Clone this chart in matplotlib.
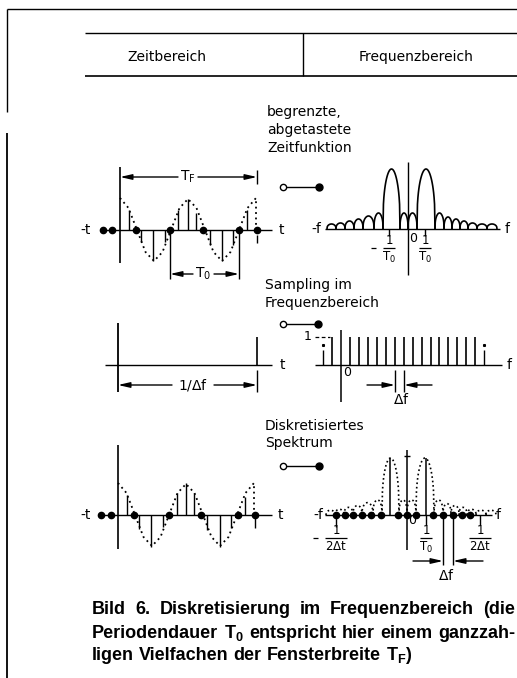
import numpy as np
import matplotlib
matplotlib.use('Agg')
import matplotlib.pyplot as plt
from matplotlib import font_manager
from matplotlib.font_manager import FontProperties


def pick_font(names):
    for n in names:
        try:
            font_manager.findfont(FontProperties(family=n), fallback_to_default=False)
            return n
        except Exception:
            pass
    return 'DejaVu Sans'


diag_font = pick_font(['Liberation Sans Narrow', 'DejaVu Sans'])
cap_font = pick_font(['Liberation Sans', 'Arial', 'DejaVu Sans'])
plt.rcParams['mathtext.fontset'] = 'custom'
plt.rcParams['mathtext.rm'] = diag_font
plt.rcParams['mathtext.it'] = diag_font
plt.rcParams['mathtext.bf'] = cap_font + ':bold'

# ---- values (pixels) ----
# dotted signal: offsets from window start, value above baseline
curve_dx = [0, 8.5, 17, 25.5, 34, 42.5, 51, 59.5, 68, 76.5, 85, 93.5, 102, 110.5, 119, 127.5, 136, 136]
curve_val = [32, 22, 0, -22, -31, -22, 0, 22, 31, 22, 0, -22, -31, -22, 0, 22, 32, 0]

# panel 1 samples
stem1_x = [129, 141, 153, 165, 178, 188, 196, 210, 222, 233, 247]
stem1_v = [20, -12, -31, -12, 20, 31, 17, -15, -31, -15, 20]
dots1_x = [103, 112, 136, 170, 203, 239, 257]

# panel 3 samples
stem3_x = [127, 139, 151, 163, 177, 186, 194, 207, 220, 231, 245]
stem3_v = [20, -14, -32, -12, 22, 32, 22, -15, -32, -13, 18]
dots3_x = [101, 111, 134, 169, 201, 238, 255]

# spectrum lobes: edges relative to f=0 and heights
lobe_edges = [-81, -72, -63, -54, -45, -34, -25, -8, 0, 9, 27, 36, 44, 52, 60, 69, 79, 89]
lobe_h = [5, 6, 8, 10, 13, 16, 60, 16, 16, 60, 16, 12, 10, 8, 6, 5, 5]

# sampling comb in frequency
comb_x = [323, 332, 350, 359, 368, 377, 386, 395, 404, 413, 422, 431, 439, 448, 457, 466, 475, 484]
comb_dashed = [323, 484]

# sampled spectrum dots and peak lines
fdots_x = [336, 345, 353, 362, 371, 381, 398, 407, 416, 433, 443, 453, 462, 470]
fpeaks_x = [390, 426]

cap_lines = [
    ['Bild', '6.', 'Diskretisierung', 'im', 'Frequenzbereich', '(die'],
    ['Periodendauer', r'$\mathbf{T_0}$', 'entspricht', 'hier', 'einem', 'ganzzah-'],
    ['ligen', 'Vielfachen', 'der', 'Fensterbreite', r'$\mathbf{T_F}$)'],
]

W, H = 517, 678
fig = plt.figure(figsize=(W / 100, H / 100), dpi=100)
ax = fig.add_axes([0, 0, 1, 1])
ax.set_xlim(0, W)
ax.set_ylim(H, 0)
ax.axis('off')
K = 'black'
LW = 1.0


def line(xs, ys, lw=LW, **kw):
    ax.plot(xs, ys, color=K, lw=lw, solid_capstyle='butt', **kw)


def txt(x, y, s, size=9.5, ha='center', va='center'):
    ax.text(x, y, s, fontsize=size, family=diag_font, ha=ha, va=va, color=K)


def arrow(x0, x1, y):
    ax.annotate('', xy=(x1, y), xytext=(x0, y),
                arrowprops=dict(arrowstyle='-|>,head_length=0.7,head_width=0.16',
                                color=K, lw=LW, shrinkA=0, shrinkB=0))


def dim(xa, xb, y, label, ga, gb, size=10):
    arrow(ga, xa, y)
    arrow(gb, xb, y)
    txt((ga + gb) / 2, y, label, size=size)


def frac(x, y, num, den, minus=False, w=12):
    line([x - w / 2, x + w / 2], [y, y], lw=0.9)
    txt(x, y - 7, num, size=8.5)
    txt(x, y + 9, den, size=8.5)
    if minus:
        line([x - w / 2 - 12, x - w / 2 - 7], [y, y], lw=0.9)


def connector(x0, x1, y):
    line([x0, x1], [y, y])
    ax.plot([x0], [y], 'o', ms=4.5, mfc='white', mec=K, mew=1.0)
    ax.plot([x1], [y], 'o', ms=5, color=K)


def lobes(x_axis, base, scale, ls):
    for i, h in enumerate(lobe_h):
        a, b = x_axis + lobe_edges[i], x_axis + lobe_edges[i + 1]
        s = np.linspace(0, np.pi, 40)
        xs = a + (b - a) * s / np.pi
        ys = base - h * scale * np.sin(s) ** 0.35
        ax.plot(xs, ys, color=K, lw=1.2 if ls == '-' else 1.2, ls=ls)


# ---- frame and header ----
line([7, W], [9, 9])
line([7, 7], [9, 112])
line([7, 7], [133, H], lw=1.3)
line([85, W], [33, 33])
line([85, W], [76, 76], lw=1.2)
line([303, 303], [33, 76])
txt(167, 57, 'Zeitbereich', size=10)
txt(416, 57, 'Frequenzbereich', size=10)

for y, s in zip([112, 130, 148], ['begrenzte,', 'abgetastete', 'Zeitfunktion']):
    txt(267, y, s, size=10, ha='left')
for y, s in zip([285, 303], ['Sampling im', 'Frequenzbereich']):
    txt(265, y, s, size=10, ha='left')
for y, s in zip([426, 443], ['Diskretisiertes', 'Spektrum']):
    txt(265, y, s, size=10, ha='left')

# ---- panel 1: time ----
b1 = 230
line([103, 272], [b1, b1])
txt(86, b1, '-t', size=10)
txt(281, b1, 't', size=10)
line([120, 120], [167, 263], lw=1.2)
line([257, 257], [170, 184])
line([257, 257], [235, 243])
ax.plot([120 + d for d in curve_dx], [b1 - v for v in curve_val], color=K, lw=1.3, ls=(0, (1, 2)))
for x, v in zip(stem1_x, stem1_v):
    line([x, x], [b1, b1 - v])
ax.plot(dots1_x, [b1] * len(dots1_x), 'o', ms=4.5, color=K)
dim(120, 257, 177, r'$\mathrm{T_F}$', 178, 198)
line([170, 170], [b1, 279])
line([239, 239], [b1, 279])
dim(170, 239, 274, r'$\mathrm{T_0}$', 193, 214)
connector(283, 319, 187)

# ---- panel 1: spectrum ----
fb1 = 229
line([325, 500], [fb1, fb1])
line([408, 408], [162, 275])
txt(316, fb1, '-f', size=10)
txt(507, fb1, 'f', size=10)
lobes(408, fb1, 1.0, '-')
line([389, 389], [fb1, 236])
line([425, 425], [fb1, 236])
frac(389, 248, '1', r'$\mathrm{T_0}$', minus=True)
frac(425, 248, '1', r'$\mathrm{T_0}$')
txt(413, 238, '0', size=9)

# ---- panel 2: time ----
b2 = 365
line([105, 272], [b2, b2])
txt(282, b2, 't', size=10)
line([118, 118], [323, 392], lw=1.3)
line([257, 257], [337, b2], lw=1.2)
line([257, 257], [370, 392])
dim(118, 257, 385, r'1/$\mathrm{\Delta}$f', 172, 214)
connector(283, 318, 324)

# ---- panel 2: spectrum ----
line([315, 502], [b2, b2])
line([341, 341], [330, 402], lw=1.1)
txt(509, b2, 'f', size=10)
for x in comb_x:
    if x in comb_dashed:
        line([x, x], [b2, 350])
        ax.plot([x], [345], 's', ms=1.2, color=K)
    else:
        line([x, x], [b2, 337], lw=1.2)
txt(308, 337, '1', size=9)
line([315, 330], [337, 337], ls=(0, (3, 2)), lw=0.9)
txt(347, 373, '0', size=9)
line([395, 395], [370, 392])
line([404, 404], [370, 392])
arrow(367, 395, 385)
arrow(432, 404, 385)
txt(401, 400, r'$\mathrm{\Delta}$f', size=10)

# ---- panel 3: time ----
b3 = 515
line([101, 272], [b3, b3])
txt(86, b3, '-t', size=10)
txt(280, b3, 't', size=10)
line([118, 118], [445, 549], lw=1.2)
line([255, 255], [b3, 528])
ax.plot([118 + d for d in curve_dx], [b3 - v for v in curve_val], color=K, lw=1.3, ls=(0, (1, 2)))
for x, v in zip(stem3_x, stem3_v):
    line([x, x], [b3, b3 - v])
ax.plot(dots3_x, [b3] * len(dots3_x), 'o', ms=4.5, color=K)
connector(283, 319, 466)

# ---- panel 3: spectrum ----
line([325, 492], [b3, b3])
line([407, 407], [450, 550], lw=1.1)
line([404, 410], [456, 456])
txt(318, b3, '-f', size=10)
txt(498, b3, 'f', size=10)
lobes(407, b3, 0.95, ':')
for x in fpeaks_x:
    line([x, x], [b3, 458], lw=1.1)
ax.plot(fdots_x, [b3] * len(fdots_x), 'o', ms=4.5, color=K)
line([336, 336], [b3, 527])
line([426, 426], [b3, 525])
line([480, 480], [b3, 525])
frac(336, 538, '1', r'$\mathrm{2\Delta t}$', minus=True, w=22)
frac(426, 538, '1', r'$\mathrm{T_0}$')
frac(480, 538, '1', r'$\mathrm{2\Delta t}$', w=22)
txt(412, 521, '0', size=9)
line([443, 443], [b3, 565])
line([453, 453], [b3, 565])
arrow(413, 443, 561)
arrow(483, 453, 561)
txt(446, 576, r'$\mathrm{\Delta}$f', size=10)

# ---- caption, justified ----
CAP_FS = 13
fig.canvas.draw()
rend = fig.canvas.get_renderer()


def width(s):
    t = ax.text(0, 0, s, fontsize=CAP_FS, family=cap_font, weight='bold')
    w = t.get_window_extent(rend).width
    t.remove()
    return w


space_w = width('a b') - width('ab')
for i, (words, y) in enumerate(zip(cap_lines, [610, 633, 655])):
    ws = [width(w) for w in words]
    if i < 2:
        gap = (515 - 92 - sum(ws)) / (len(words) - 1)
    else:
        gap = space_w
    x = 92
    for w, wd in zip(words, ws):
        ax.text(x, y, w, fontsize=CAP_FS, family=cap_font, weight='bold',
                ha='left', va='center', color=K)
        x += wd + gap

fig.savefig('out.png', dpi=100)
